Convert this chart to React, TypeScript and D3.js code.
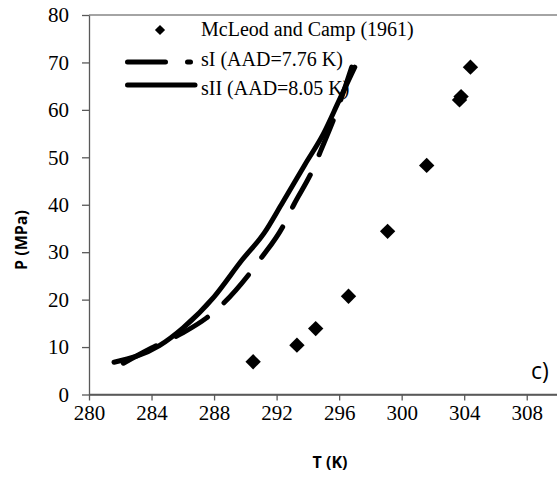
import React, { useRef, useEffect } from 'react';
import * as d3 from 'd3';

// McLeod and Camp (1961) experimental points
const expT = [290.5, 293.3, 294.5, 296.6, 299.1, 301.6, 303.7, 303.8, 304.4];
const expP = [6.9, 10.4, 13.9, 20.7, 34.4, 48.3, 62.1, 62.8, 69.0];

// sI prediction (dashed)
const sIT = [282.2, 284.0, 286.0, 287.5, 288.5, 290.2, 291.0, 292.4, 293.1, 294.3, 294.8, 295.8, 296.8];
const sIP = [6.6, 9.8, 13.0, 16.1, 18.9, 25.2, 28.7, 35.4, 40.0, 47.3, 51.2, 59.3, 69.0];

// sII prediction (solid)
const sIIT = [281.6, 284.5, 286.0, 288.0, 289.8, 291.2, 292.3, 293.8, 295.0, 296.0, 297.0];
const sIIP = [6.8, 10.3, 14.0, 20.6, 28.4, 34.0, 40.0, 48.4, 55.0, 62.0, 69.0];

const xTicks = [280, 284, 288, 292, 296, 300, 304, 308];
const yTicks = [0, 10, 20, 30, 40, 50, 60, 70, 80];

const legendLabels = ['McLeod and Camp (1961)', 'sI (AAD=7.76 K)', 'sII (AAD=8.05 K)'];

const W = 557;
const H = 483;

const App = () => {
  const svgRef = useRef<SVGSVGElement>(null);

  useEffect(() => {
    const x = d3.scaleLinear().domain([280, 310]).range([89, 558]);
    const y = d3.scaleLinear().domain([0, 80]).range([394.5, 15]);

    const svg = d3.select(svgRef.current).html('');
    const serif = '"Liberation Serif", "Times New Roman", serif';
    const sans = '"Open Sans", "Noto Sans", sans-serif';

    // frame top line
    svg.append('line')
      .attr('x1', x(280)).attr('x2', W)
      .attr('y1', y(80)).attr('y2', y(80))
      .attr('stroke', '#868686').attr('stroke-width', 1.3);

    // axes
    const gx = svg.append('g')
      .attr('transform', `translate(0,${y(0)})`)
      .call(d3.axisBottom(x).tickValues(xTicks).tickSize(6).tickPadding(5).tickSizeOuter(0));
    const gy = svg.append('g')
      .attr('transform', `translate(${x(280)},0)`)
      .call(d3.axisLeft(y).tickValues(yTicks).tickSize(7).tickPadding(13).tickSizeOuter(0));
    [gx, gy].forEach(g => {
      g.attr('font-family', serif).attr('font-size', 21);
      g.select('.domain').attr('stroke', '#595959').attr('stroke-width', 1.3);
      g.selectAll('.tick line').attr('stroke', '#595959').attr('stroke-width', 1.3);
      g.selectAll('.tick text')
        .attr('fill', '#000')
        .style('font-family', serif).style('font-size', '21px');
    });
    gx.append('line').attr('x1', x(280)).attr('x2', W).attr('stroke', '#595959').attr('stroke-width', 1.3);

    // axis titles
    svg.append('text')
      .attr('x', 330).attr('y', 468)
      .attr('text-anchor', 'middle')
      .attr('font-family', sans).attr('font-weight', 700).attr('font-size', 16)
      .text('T (K)');
    svg.append('text')
      .attr('transform', 'translate(27,240) rotate(-90)')
      .attr('text-anchor', 'middle')
      .attr('font-family', sans).attr('font-weight', 700).attr('font-size', 16)
      .text('P (MPa)');

    const line = d3.line<[number, number]>()
      .x(d => x(d[0]))
      .y(d => y(d[1]))
      .curve(d3.curveMonotoneX);

    // sII solid
    svg.append('path')
      .datum(sIIT.map((t, i) => [t, sIIP[i]] as [number, number]))
      .attr('d', line)
      .attr('fill', 'none').attr('stroke', '#000')
      .attr('stroke-width', 5).attr('stroke-linecap', 'round').attr('stroke-linejoin', 'round');

    // sI dashed
    svg.append('path')
      .datum(sIT.map((t, i) => [t, sIP[i]] as [number, number]))
      .attr('d', line)
      .attr('fill', 'none').attr('stroke', '#000')
      .attr('stroke-width', 5).attr('stroke-linecap', 'round')
      .attr('stroke-dasharray', '37 22');

    // experimental points
    const diamond = d3.symbol().type(d3.symbolSquare).size(118);
    svg.selectAll('.pt')
      .data(expT.map((t, i) => [t, expP[i]]))
      .enter()
      .append('path')
        .attr('class', 'pt')
        .attr('d', diamond)
        .attr('transform', d => `translate(${x(d[0])},${y(d[1])}) rotate(45)`)
        .attr('fill', '#000');

    // legend
    const lg = svg.append('g');
    lg.append('path')
      .attr('d', d3.symbol().type(d3.symbolSquare).size(52))
      .attr('transform', 'translate(160,30) rotate(45)')
      .attr('fill', '#000');
    lg.append('line')
      .attr('x1', 127.5).attr('x2', 190.5).attr('y1', 62).attr('y2', 62)
      .attr('stroke', '#000').attr('stroke-width', 5).attr('stroke-linecap', 'round')
      .attr('stroke-dasharray', '38 22');
    lg.append('line')
      .attr('x1', 127.5).attr('x2', 195).attr('y1', 85).attr('y2', 85)
      .attr('stroke', '#000').attr('stroke-width', 5).attr('stroke-linecap', 'round');
    lg.selectAll('.lt')
      .data(legendLabels)
      .enter()
      .append('text')
        .attr('class', 'lt')
        .attr('x', 201)
        .attr('y', (d, i) => 36 + i * 29.5)
        .attr('font-family', serif).attr('font-size', 20)
        .text(d => d);

    // panel label
    svg.append('text')
      .attr('x', 531).attr('y', 379)
      .attr('font-family', sans).attr('font-size', 23)
      .text('c)');
  }, []);

  return <svg ref={svgRef} width={W} height={H} style={{ position: 'absolute', left: 0, top: 0 }} />;
};

export default App;
